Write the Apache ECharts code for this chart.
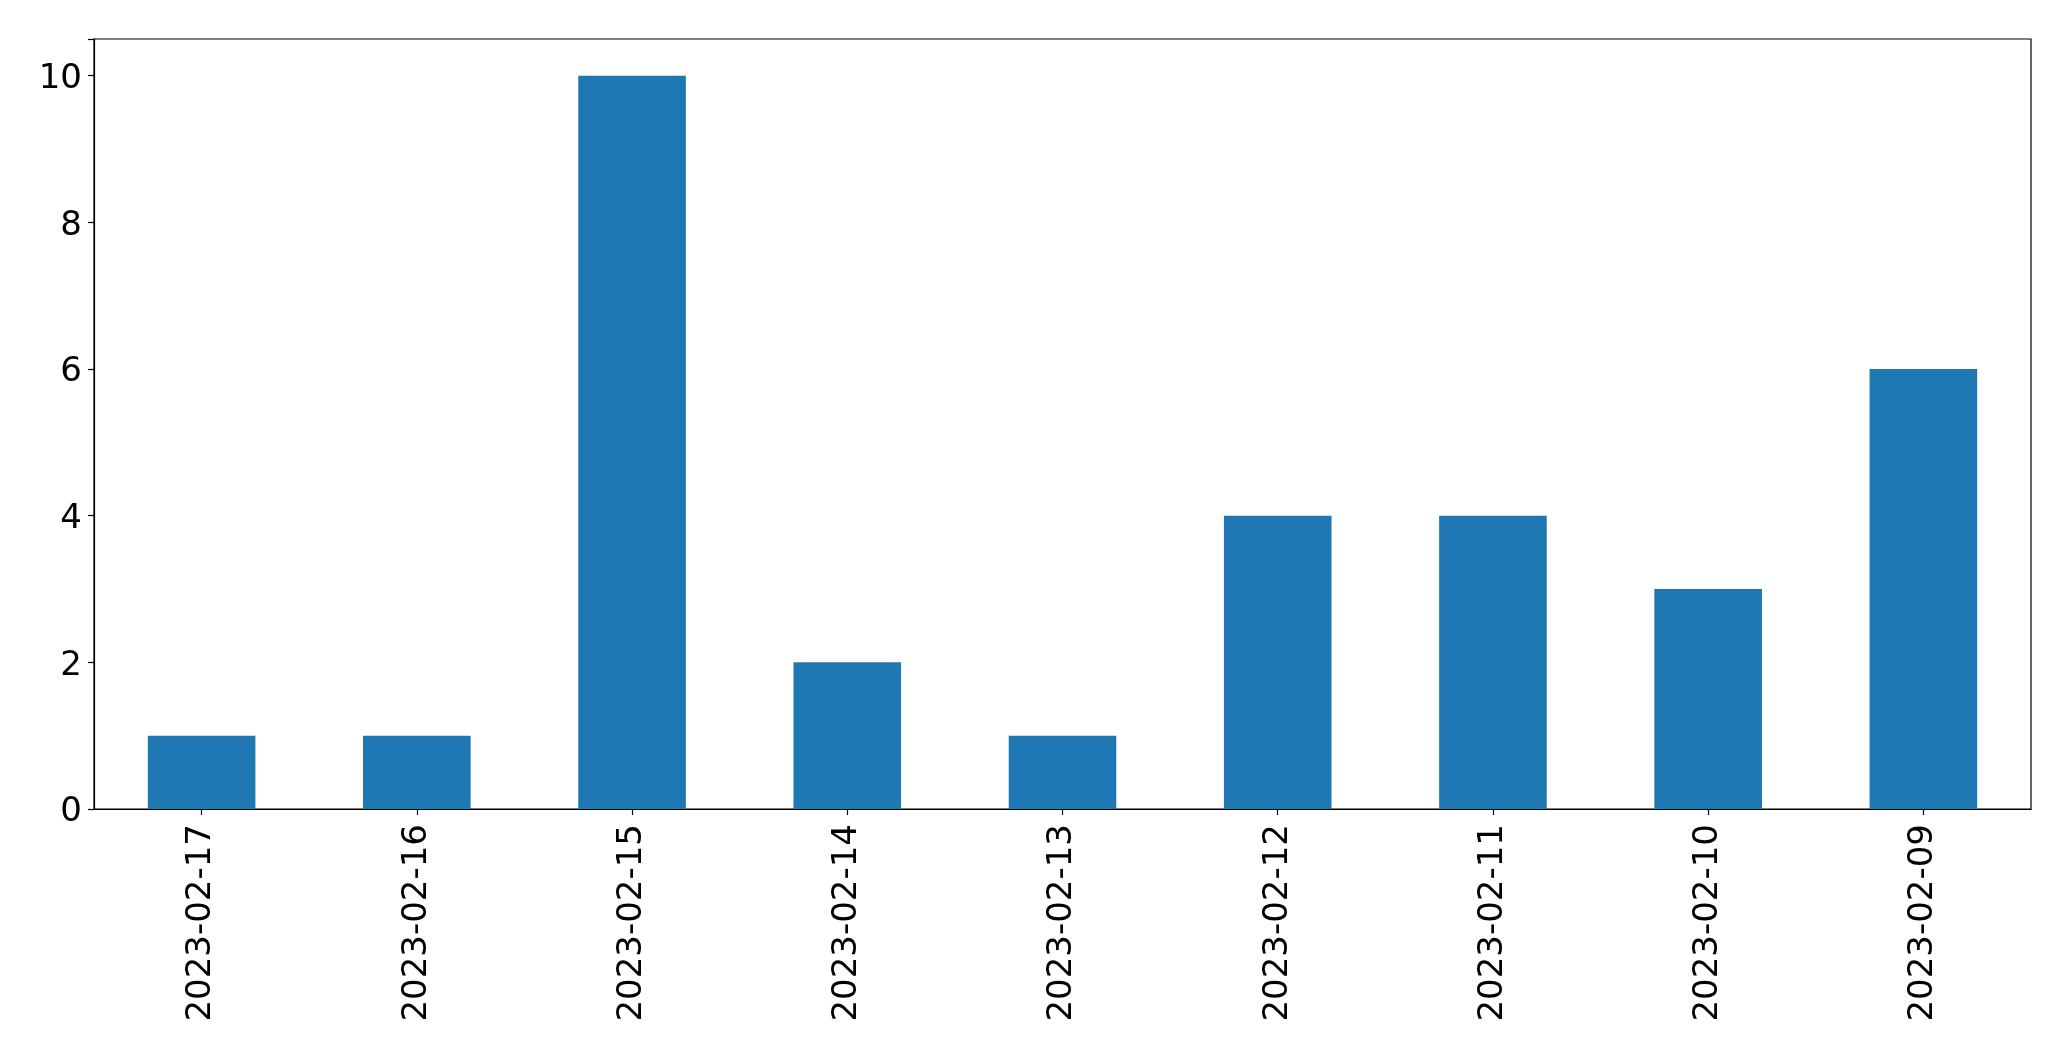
<!DOCTYPE html>
<html>
<head>
<meta charset="utf-8">
<script src="https://cdn.jsdelivr.net/npm/echarts@6/dist/echarts.min.js"></script>
<style>html,body{margin:0;padding:0;background:#fff;}#c{width:2071px;height:1061px;}</style>
</head>
<body>
<div id="c"></div>
<script>
const categories = ["2023-02-17","2023-02-16","2023-02-15","2023-02-14","2023-02-13","2023-02-12","2023-02-11","2023-02-10","2023-02-09"];
const values = [1, 1, 10, 2, 1, 4, 4, 3, 6];
const yTicks = [0, 2, 4, 6, 8, 10];

const chart = echarts.init(document.getElementById('c'), null, {renderer: 'canvas'});
chart.setOption({
  animation: false,
  backgroundColor: '#ffffff',
  grid: {left: 94, top: 39, width: 1937, height: 770, show: true, borderColor: '#000', borderWidth: 1.2, backgroundColor: 'transparent'},
  xAxis: {
    type: 'category',
    data: categories,
    boundaryGap: true,
    axisLine: {show: true, lineStyle: {color: '#000', width: 1.2}},
    axisTick: {show: true, alignWithLabel: true, length: 6, lineStyle: {color: '#000', width: 1.2}},
    axisLabel: {rotate: 90, margin: 15, fontSize: 34, fontFamily: 'DejaVu Sans', color: '#000'},
    splitLine: {show: false}
  },
  yAxis: {
    type: 'value',
    min: 0, max: 10.5, interval: 2,
    axisLine: {show: true, lineStyle: {color: '#000', width: 1.2}},
    axisTick: {show: true, length: 6, lineStyle: {color: '#000', width: 1.2}},
    axisLabel: {margin: 12, fontSize: 34, fontFamily: 'DejaVu Sans', color: '#000',
      formatter: function(v){ return yTicks.indexOf(v) >= 0 ? '{a|' + v + '}' : ''; },
      rich: {a: {fontSize: 34, fontFamily: 'DejaVu Sans', color: '#000', padding: [7, 0, 0, 0]}}},
    splitLine: {show: false}
  },
  series: [{
    type: 'bar',
    data: values,
    barWidth: '50%',
    itemStyle: {color: '#1f77b4'}
  }]
});
</script>
</body>
</html>
